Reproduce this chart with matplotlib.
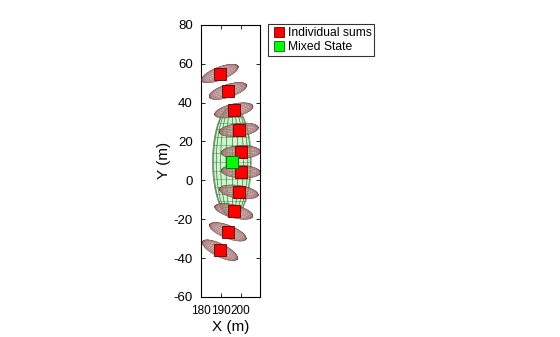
import numpy as np
import matplotlib.pyplot as plt
from matplotlib.patches import Ellipse
from matplotlib.lines import Line2D

plt.rcParams["font.family"] = ["Liberation Sans", "DejaVu Sans"]
plt.rcParams["axes.unicode_minus"] = False

# Daten: einzelne Summen (rot) und gemischter Zustand (grün)
sum_x = [189.5, 193.5, 196.5, 199.0, 200.0, 200.0, 199.0, 196.5, 193.5, 189.5]
sum_y = [55.0, 46.0, 36.0, 26.0, 14.5, 4.5, -6.0, -16.0, -26.5, -36.0]
sum_ang = [22, 18, 13, 7, 2, -3, -9, -15, -22, -27]   # Neigung der Ellipsen (Grad)
sum_a, sum_b = 9.8, 3.3                               # Halbachsen

mix_x, mix_y = 195.6, 9.5
mix_a, mix_b = 9.8, 28.5                              # Halbachse x, y

N_MESH_RED = 20
N_MESH_GREEN = 20


def mesh_lines(ax, xc, yc, a, b, ang, n, color, lw, alpha):
    """Gitterlinien eines Ellipsoids (Seitenansicht), Pol entlang der a-Achse."""
    th = np.deg2rad(ang)
    c, s = np.cos(th), np.sin(th)
    u = np.linspace(-np.pi / 2, np.pi / 2, n + 1)
    uu = np.linspace(-np.pi / 2, np.pi / 2, 100)
    segs = []
    # Breitenlinien
    for ui in u:
        p = a * np.sin(ui)
        q = b * np.cos(ui) * np.array([-1, 1])
        segs.append((np.full(2, p), q))
    # Meridiane
    for v in np.linspace(0, 2 * np.pi, n + 1):
        segs.append((a * np.sin(uu), b * np.cos(uu) * np.cos(v)))
    for p, q in segs:
        x = xc + p * c - q * s
        y = yc + p * s + q * c
        ax.plot(x, y, color=color, lw=lw, alpha=alpha, zorder=3)


fig = plt.figure(figsize=(5.6, 3.37), dpi=100)
ax = fig.add_axes([0.359, 0.119, 0.105, 0.807])

# grünes Ellipsoid (Mixed State)
ax.add_patch(Ellipse((mix_x, mix_y), 2 * mix_a, 2 * mix_b,
                     facecolor=(0.6, 0.95, 0.6), alpha=0.5,
                     edgecolor="none", zorder=2))
mesh_lines(ax, mix_x, mix_y, mix_b, mix_a, 90, N_MESH_GREEN,
           (0.2, 0.35, 0.2), 0.5, 0.5)

# rote Ellipsoide
for xc, yc, ang in zip(sum_x, sum_y, sum_ang):
    ax.add_patch(Ellipse((xc, yc), 2 * sum_a, 2 * sum_b, angle=ang,
                         facecolor=(0.78, 0.58, 0.58), alpha=0.6,
                         edgecolor="none", zorder=4))
    mesh_lines(ax, xc, yc, sum_a, sum_b, ang, N_MESH_RED,
               (0.3, 0.15, 0.15), 0.35, 0.6)

ax.plot(sum_x, sum_y, "s", ms=8, mfc="red", mec=(0.4, 0, 0),
        mew=0.6, ls="none", zorder=6)
ax.plot([mix_x], [mix_y], "s", ms=8, mfc=(0, 1, 0), mec=(0, 0.4, 0),
        mew=0.6, ls="none", zorder=6)

ax.set_xlim(180.5, 209.6)
ax.set_ylim(-60, 80)
ax.set_xticks([180, 190, 200])
ax.set_yticks(np.arange(-60, 81, 20))
ax.tick_params(direction="in", top=True, right=True, length=3, width=0.6)
ax.tick_params(axis="x", pad=6, labelsize=8.5)
ax.tick_params(axis="y", pad=6, labelsize=9.5)
ax.set_xlabel("X (m)", fontsize=11, labelpad=2)
ax.set_ylabel("Y (m)", fontsize=11, labelpad=2)
for sp in ax.spines.values():
    sp.set_linewidth(0.8)

handles = [
    Line2D([], [], marker="s", ls="none", ms=6.5, mfc="red", mec=(0.4, 0, 0), mew=0.6),
    Line2D([], [], marker="s", ls="none", ms=6.5, mfc=(0, 1, 0), mec=(0, 0.4, 0), mew=0.6),
]
leg = fig.legend(handles, ["Individual sums", "Mixed State"],
                 loc="upper left", bbox_to_anchor=(0.479, 0.929),
                 fontsize=8.7, frameon=True, fancybox=False, borderpad=0.25,
                 handletextpad=0.15, handlelength=1.2, labelspacing=0.2,
                 borderaxespad=0)
leg.get_frame().set_edgecolor("black")
leg.get_frame().set_linewidth(0.8)

fig.savefig("out.png", dpi=100)
